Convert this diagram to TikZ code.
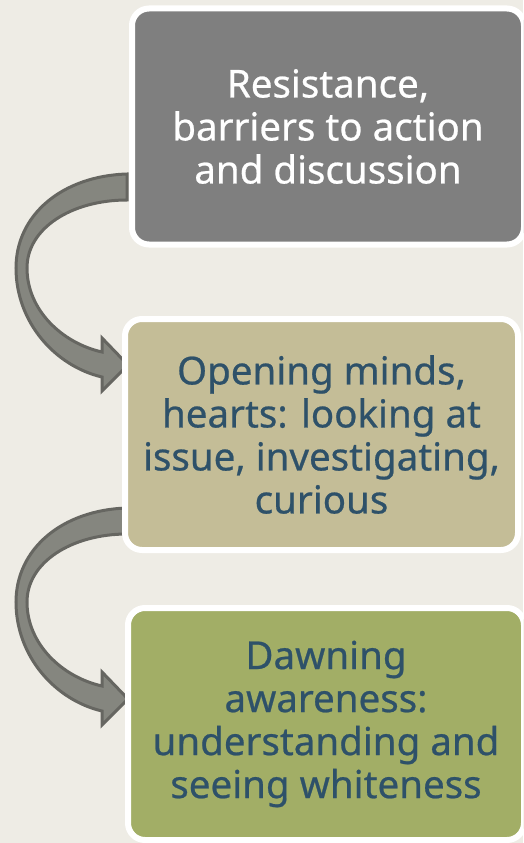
\documentclass[tikz,border=0pt]{standalone}
\usepackage{fontspec}
\newfontfamily\boxfont[FakeBold=0.6]{Noto Sans}
\definecolor{bgc}{HTML}{EEECE5}
\definecolor{boxgray}{HTML}{7F7F7F}
\definecolor{boxtan}{HTML}{C4BD97}
\definecolor{boxgreen}{HTML}{A2AE66}
\definecolor{txtblue}{HTML}{2E5169}
\definecolor{arrfill}{HTML}{85867F}
\definecolor{arrline}{HTML}{666661}
\tikzset{
  stagebox/.style={draw=white, line width=6pt, rounded corners=17pt, inner sep=0pt,
    align=center, font=\boxfont\fontsize{38.5}{43}\selectfont},
  curvearrow/.style={fill=arrfill, draw=arrline, line width=3pt, line join=miter}
}
\begin{document}
\begin{tikzpicture}[x=1pt,y=-1pt]
\fill[bgc] (0,0) rectangle (523,843);
\useasboundingbox (0,0) rectangle (523,843);
\clip (0,0) rectangle (523,843);
% arrows
\coordinate (a1) at (0,0);
\coordinate (a2) at (0,334);
\foreach \c in {a1,a2}{
\begin{scope}[shift={(\c)}]
\draw[curvearrow] (127,174) .. controls (62,176) and (16,215) .. (16,268)
  .. controls (16,322) and (55,366) .. (102,377)
  -- (102,391) -- (128,365) -- (102,338) -- (102,352)
  .. controls (62,343) and (27,310) .. (27,268)
  .. controls (27,228) and (72,200) .. (127,200) -- cycle;
\end{scope}
}
% boxes
\node[stagebox, fill=boxgray, text=white, minimum width=392pt, minimum height=236pt]
  (b1) at (328,126.5) {Resistance,\\barriers to action\\and discussion};
\node[stagebox, fill=boxtan, text=txtblue, minimum width=393pt, minimum height=231pt]
  (b2) at (321.5,434.5) {Opening minds,\\hearts: looking at\\issue, investigating,\\curious};
\node[stagebox, fill=boxgreen, text=txtblue, minimum width=396pt, minimum height=232pt]
  (b3) at (326,724) {Dawning\\awareness:\\understanding and\\seeing whiteness};
\end{tikzpicture}
\end{document}
